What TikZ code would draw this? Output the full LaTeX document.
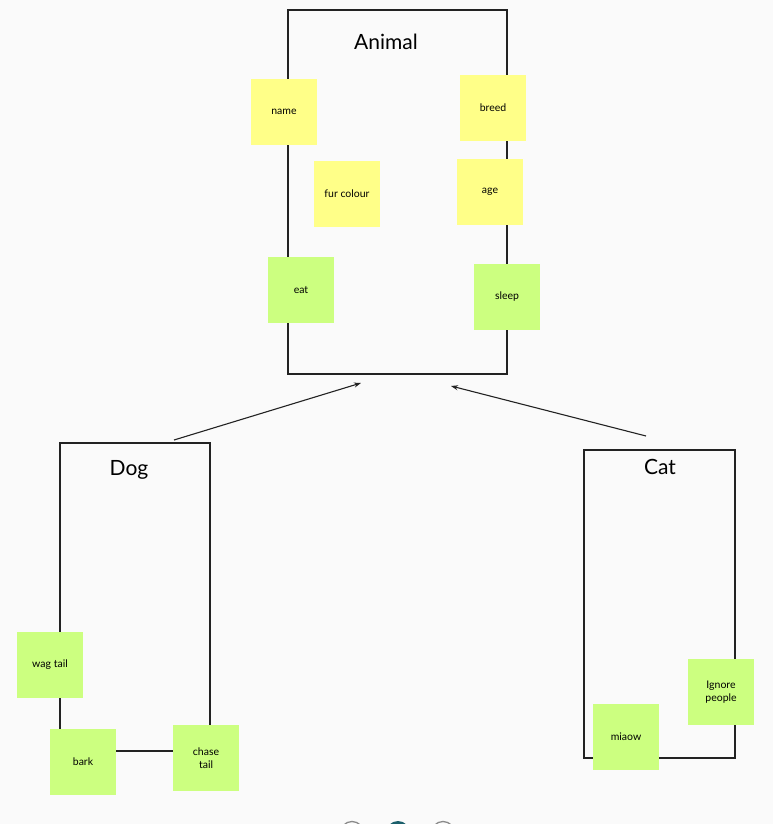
\documentclass[tikz,border=0pt]{standalone}
\usepackage{fontspec}
\setmainfont{Lato}
\usetikzlibrary{arrows.meta}
\definecolor{bg}{HTML}{FAFAFA}
\definecolor{stickyY}{HTML}{FFFF88}
\definecolor{stickyG}{HTML}{CCFF80}
\definecolor{lineC}{HTML}{222222}
\definecolor{dotC}{HTML}{1B5F6B}
\definecolor{dotO}{HTML}{8A8A8A}
\tikzset{
  classbox/.style={draw=lineC, line width=1.3pt, fill=bg},
  sticky/.style={minimum width=66pt, minimum height=66pt, inner sep=2pt, align=center,
    font=\fontsize{10.5}{13}\selectfont, text=black},
  attr/.style={sticky, fill=stickyY},
  meth/.style={sticky, fill=stickyG},
  title/.style={font=\fontsize{21}{24}\selectfont, text=black},
  inherit/.style={draw=lineC, line width=1.1pt, -{Stealth[length=7pt,width=5pt]}},
}
\begin{document}
\begin{tikzpicture}[x=1pt,y=-1pt]
\fill[bg] (0,0) rectangle (773,824);
\useasboundingbox (0,0) rectangle (773,824);
% class boxes
\draw[classbox] (288,10) rectangle (507,374);
\draw[classbox] (60,443) rectangle (210,751);
\draw[classbox] (584,450) rectangle (735,758);
\node[title] (animalT) at (386,42) {Animal};
\node[title] (dogT) at (129,470) {Dog};
\node[title] (catT) at (660,467) {Cat};
% animal stickies
\node[attr] (name) at (284,112) {name};
\node[attr] (breed) at (493,108) {breed};
\node[attr] (fur) at (347,194) {fur colour};
\node[attr] (age) at (490,192) {age};
\node[meth] (eat) at (301,290) {eat};
\node[meth] (sleep) at (507,297) {sleep};
% dog stickies
\node[meth] (wag) at (50,665) {wag tail};
\node[meth] (bark) at (83,762) {bark};
\node[meth] (chase) at (206,758) {chase\\tail};
% cat stickies
\node[meth] (ignore) at (721,692) {Ignore\\people};
\node[meth] (miaow) at (626,737) {miaow};
% inheritance arrows
\coordinate (dogTop) at (174,440);
\coordinate (animalL) at (361,383);
\coordinate (catTop) at (646,436);
\coordinate (animalR) at (451,386);
\draw[inherit] (dogTop) -- (animalL);
\draw[inherit] (catTop) -- (animalR);
% pager dots
\begin{scope}
\clip (0,0) rectangle (773,824);
\node[circle, draw=dotO, line width=1.3pt, minimum size=23pt, inner sep=0] (dot1) at (352,833) {};
\node[circle, fill=dotC, minimum size=24pt, inner sep=0] (dot2) at (398,833) {};
\node[circle, draw=dotO, line width=1.3pt, minimum size=23pt, inner sep=0] (dot3) at (443,833) {};
\end{scope}
\end{tikzpicture}
\end{document}
